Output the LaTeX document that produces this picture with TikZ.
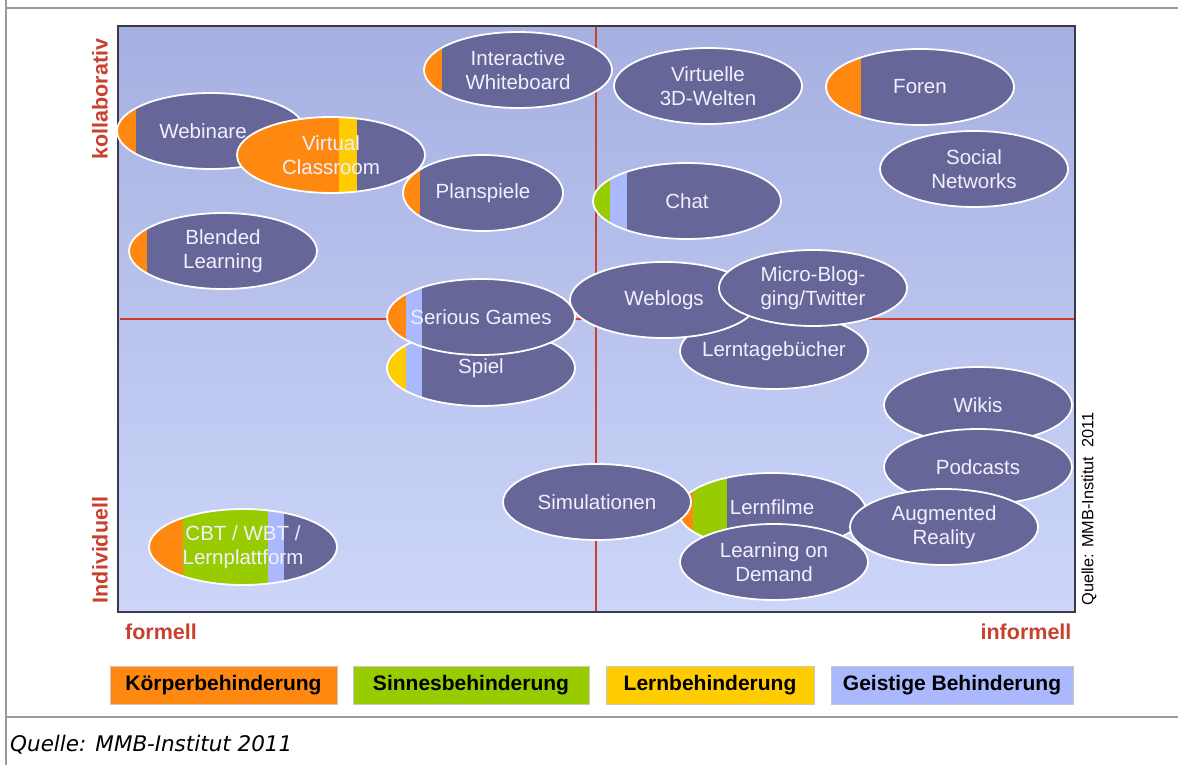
\documentclass[tikz,border=0pt]{standalone}
\usepackage{fontspec}
\setmainfont{Liberation Sans}
\newfontfamily\dejavu{DejaVu Sans}
\usetikzlibrary{shapes.geometric}

\definecolor{bubblefill}{HTML}{666699}
\definecolor{kb}{HTML}{FF8811}
\definecolor{sb}{HTML}{99CC00}
\definecolor{lb}{HTML}{FFCC00}
\definecolor{gb}{HTML}{AAB9FD}
\definecolor{axisred}{HTML}{C8412F}
\definecolor{framegray}{HTML}{9A9A9A}
\definecolor{plotframe}{HTML}{3A3A4A}
\definecolor{plottop}{HTML}{A6B0E1}
\definecolor{plotbottom}{HTML}{CDD6F9}
\definecolor{labelwhite}{HTML}{F0F0FF}
\definecolor{legendborder}{HTML}{C8C8C8}

\tikzset{
  bubble/.style={ellipse, draw=white, line width=1.8pt, fill=bubblefill,
    minimum width=188pt, minimum height=76pt, inner sep=0pt},
  bands/.style={path picture={
    \foreach \c/\a/\b in {#1}{
      \fill[\c] ([xshift=\a pt]path picture bounding box.south west)
        rectangle ([xshift=\b pt]path picture bounding box.north west);}}},
  lbl/.style={text=labelwhite, font=\fontsize{20.5}{24}\selectfont,
    align=center, inner sep=0pt},
  axislbl/.style={text=axisred, font=\bfseries\fontsize{21.5}{25}\selectfont,
    inner sep=0pt},
  legendbox/.style={draw=legendborder, line width=1pt, minimum height=38pt,
    inner sep=0pt, text=black, font=\bfseries\fontsize{21}{25}\selectfont},
  redline/.style={draw=axisred, line width=2pt},
  grayline/.style={draw=framegray, line width=2pt},
}

% bubble: [label options]{name}{centre}{shape options}{text}
\newcommand\bubbleat[5][]{%
  \node[bubble,#4] (#2) at (#3) {};
  \node[lbl,#1] (#2-text) at (#2.center) {#5};}

\begin{document}
\begin{tikzpicture}[x=1pt,y=-1pt]
\useasboundingbox (0,0) rectangle (1178,765);
\fill[white] (0,0) rectangle (1178,765);

% page frame
\coordinate (fTL) at (6,8);
\coordinate (fTR) at (1178,8);
\coordinate (fL0) at (6,0);
\coordinate (fL1) at (6,765);
\coordinate (fBL) at (6,717);
\coordinate (fBR) at (1178,717);
\draw[grayline] (fTL) -- (fTR);
\draw[grayline] (fL0) -- (fL1);
\draw[grayline] (fBL) -- (fBR);

% plot area
\shade[top color=plottop, bottom color=plotbottom] (118,26) rectangle (1075,612);

% quadrant lines
\coordinate (vTop) at (596,26);
\coordinate (vBot) at (596,612);
\coordinate (hL) at (120,319);
\coordinate (hR) at (1075,319);
\draw[redline] (vTop) -- (vBot);
\draw[redline] (hL) -- (hR);
\draw[draw=plotframe, line width=1.6pt] (118,26) rectangle (1075,612);

% bubbles
\bubbleat{iwb}{518,70}{bands={kb/0/18}}{Interactive\\Whiteboard}
\bubbleat{v3d}{708,86}{}{Virtuelle\\3D-Welten}
\bubbleat{foren}{920,87}{bands={kb/0/35}}{Foren}
\bubbleat{social}{974,169}{}{Social\\Networks}
\bubbleat[xshift=-8pt]{webinare}{211,131}{bands={kb/0/19}}{Webinare}
\bubbleat{vc}{331,155}{bands={kb/0/102,lb/102/120}}{Virtual\\Classroom}
\bubbleat{plan}{483,193}{minimum width=160pt,bands={kb/0/17}}{Planspiele}
\bubbleat{blended}{223,251}{bands={kb/0/18}}{Blended\\Learning}
\bubbleat{chat}{687,201}{bands={sb/0/17,gb/17/34}}{Chat}
\bubbleat{lern}{774,351}{}{Lerntagebücher}
\bubbleat{weblogs}{664,300}{}{Weblogs}
\bubbleat{micro}{813,288}{}{Micro-Blog-\\ging/Twitter}
\bubbleat{spiel}{481,368}{bands={lb/0/19,gb/19/35}}{Spiel}
\bubbleat{serious}{481,317}{bands={kb/0/19,gb/19/35}}{Serious Games}
\bubbleat{wikis}{978,405}{}{Wikis}
\bubbleat{podcasts}{978,467}{}{Podcasts}
\bubbleat[yshift=4pt]{lernfilme}{772,511}{bands={kb/0/15,sb/15/49}}{Lernfilme}
\bubbleat{sim}{597,502}{}{Simulationen}
\bubbleat{lod}{774,562}{}{Learning on\\Demand}
\bubbleat{ar}{944,527}{}{Augmented\\Reality}
\bubbleat{cbt}{243,547}{bands={kb/0/34,sb/34/119,gb/119/135}}{CBT / WBT /\\Lernplattform}

% axis captions
\node[axislbl, rotate=90] (kollab) at (100,99) {kollaborativ};
\node[axislbl, rotate=90] (indiv) at (100,550) {Individuell};
\node[axislbl] (formell) at (161,632) {formell};
\node[axislbl] (informell) at (1026,632) {informell};

% side source note
\node[rotate=90, inner sep=0pt, font=\fontsize{16.3}{19}\selectfont] (side) at (1089,509) {Quelle: MMB-Institut\ \ 2011};

% legend
\node[legendbox, fill=kb, minimum width=227pt] (leg1) at (223.5,685) {Körperbehinderung};
\node[legendbox, fill=sb, minimum width=236pt] (leg2) at (471,685) {Sinnesbehinderung};
\node[legendbox, fill=lb, minimum width=208pt] (leg3) at (710,685) {Lernbehinderung};
\node[legendbox, fill=gb, minimum width=242pt] (leg4) at (952,685) {Geistige Behinderung};

% source line
\node[anchor=base west, inner sep=0pt, font=\dejavu\itshape\fontsize{21.5}{25}\selectfont] (src) at (10,751) {Quelle: MMB-Institut 2011};
\end{tikzpicture}
\end{document}
